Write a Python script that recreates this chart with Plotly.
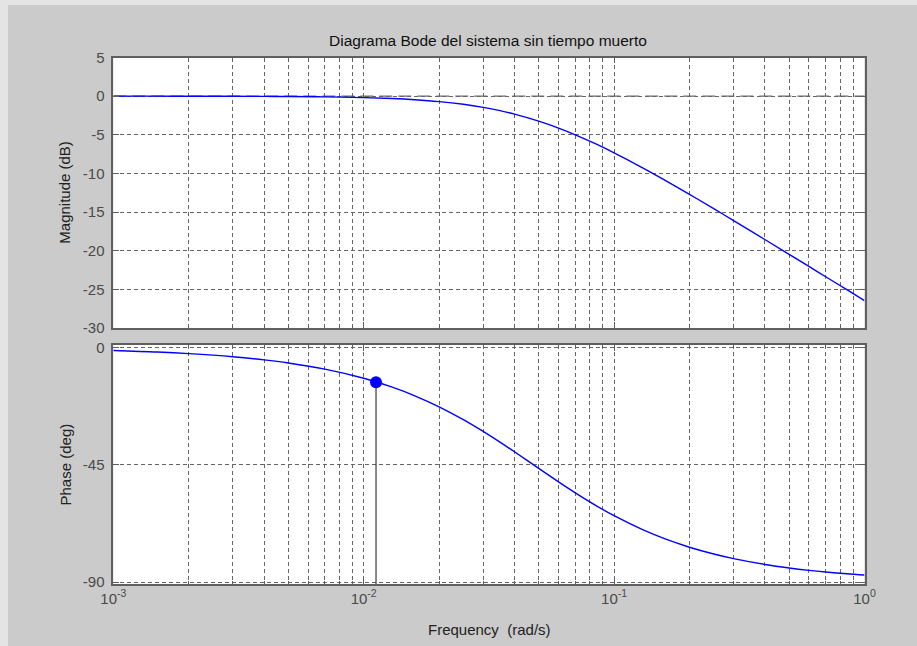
import plotly.graph_objects as go

# Frequency response of the first-order system (no dead time)
freq = [0.001, 0.0015, 0.002, 0.003, 0.004, 0.005, 0.007, 0.01, 0.013, 0.016,
        0.02, 0.025, 0.03, 0.035, 0.04, 0.05, 0.06, 0.07, 0.085, 0.1,
        0.13, 0.16, 0.2, 0.25, 0.3, 0.4, 0.5, 0.6, 0.7, 0.85, 1.0]
mag_db = [-0.002, -0.004, -0.008, -0.017, -0.031, -0.048, -0.093, -0.187, -0.312, -0.465,
          -0.706, -1.057, -1.452, -1.876, -2.319, -3.228, -4.129, -4.998, -6.218, -7.332,
          -9.270, -10.896, -12.705, -14.558, -16.095, -18.547, -20.463, -22.034, -23.367, -25.046, -26.454]
phase_deg = [-1.20, -1.80, -2.41, -3.60, -4.80, -5.99, -8.36, -11.86, -15.27, -18.57,
             -22.78, -27.70, -32.21, -36.32, -40.03, -46.40, -51.56, -55.77, -60.74, -64.54,
             -69.88, -73.43, -76.61, -79.22, -80.98, -83.21, -84.56, -85.46, -86.11, -86.79, -87.27]

# Data tip on the phase curve
tip_freq = 0.0112
tip_phase = -13.4

decades = [0.001, 0.01, 0.1, 1]
decade_text = ["10<sup>-3</sup>", "10<sup>-2</sup>", "10<sup>-1</sup>", "10<sup>0</sup>"]
mag_ticks = [5, 0, -5, -10, -15, -20, -25, -30]
phase_ticks = [0, -45, -90]

W, H = 917, 646
minor_vals = [m * d for d in decades[:-1] for m in range(2, 10)]

def px_x(p):
    return p / W

def px_y(p):
    return 1 - p / H

FONT = "Liberation Sans, Arial, sans-serif"
AX = "#5f5f5f"
GRID = "#666666"
TICKFONT = dict(family=FONT, size=15, color="#4a4a4a")

x_dom = [px_x(113.3), px_x(864.5)]
mag_dom = [px_y(328), px_y(57.5)]
ph_dom = [px_y(584), px_y(345)]

def xaxis_cfg(anchor, labels):
    return dict(
        type="log", range=[-3, 0], domain=x_dom, anchor=anchor,
        tickmode="array", tickvals=decades,
        ticktext=decade_text if labels else [""] * len(decades),
        showticklabels=labels, tickfont=TICKFONT,
        ticks="inside", ticklen=6, tickcolor=AX, tickwidth=1,
        showline=True, linecolor=AX, linewidth=1.5, mirror="ticks",
        showgrid=True, gridcolor=GRID, gridwidth=1, griddash="4px,3px",
        minor=dict(tickmode="array", tickvals=minor_vals, ticks="inside", ticklen=3,
                   tickcolor=AX, showgrid=True, gridcolor=GRID, gridwidth=1,
                   griddash="4px,3px"),
        zeroline=False, fixedrange=True, automargin=False,
    )

def yaxis_cfg(anchor, dom, rng, ticks):
    return dict(
        domain=dom, anchor=anchor, range=rng,
        tickmode="array", tickvals=ticks, ticktext=[str(t) for t in ticks],
        tickfont=TICKFONT, ticklabelstandoff=4,
        ticks="inside", ticklen=6, tickcolor=AX,
        showline=True, linecolor=AX, linewidth=1.5, mirror="ticks",
        showgrid=True, gridcolor=GRID, gridwidth=1, griddash="4px,3px",
        zeroline=False, fixedrange=True, automargin=False,
    )

fig = go.Figure()

fig.add_trace(go.Scatter(x=freq, y=mag_db, mode="lines", xaxis="x", yaxis="y",
                         line=dict(color="#0000ff", width=1.4, shape="spline"),
                         showlegend=False, hoverinfo="skip"))
fig.add_trace(go.Scatter(x=freq, y=phase_deg, mode="lines", xaxis="x2", yaxis="y2",
                         line=dict(color="#0000ff", width=1.4, shape="spline"),
                         showlegend=False, hoverinfo="skip"))
fig.add_trace(go.Scatter(x=[tip_freq, tip_freq], y=[tip_phase, -90.7], mode="lines",
                         xaxis="x2", yaxis="y2", line=dict(color="#3a3a3a", width=1.2),
                         showlegend=False, hoverinfo="skip"))
fig.add_trace(go.Scatter(x=[tip_freq], y=[tip_phase], mode="markers",
                         xaxis="x2", yaxis="y2",
                         marker=dict(color="#0000ff", size=12, line=dict(width=0)),
                         showlegend=False, hoverinfo="skip"))

shapes = [
    # 0 dB reference line
    dict(type="line", xref="x domain", yref="y", x0=0, x1=1, y0=0, y1=0,
         line=dict(color="#6a6a6a", width=1.4, dash="13px,6px"), layer="below"),
    # light window edge strips
    dict(type="rect", xref="paper", yref="paper", x0=0, x1=1, y0=px_y(5), y1=1,
         fillcolor="#e4e4e4", line=dict(width=0), layer="below"),
    dict(type="rect", xref="paper", yref="paper", x0=0, x1=px_x(8), y0=0, y1=1,
         fillcolor="#e4e4e4", line=dict(width=0), layer="below"),
]

annotations = [
    dict(text="Diagrama Bode del sistema sin tiempo muerto", xref="paper", yref="paper",
         x=px_x(488), y=px_y(40), showarrow=False, xanchor="center", yanchor="middle",
         font=dict(family=FONT, size=15.5, color="#111111")),
    dict(text="Magnitude (dB)", xref="paper", yref="paper", x=px_x(65), y=px_y(192.7),
         showarrow=False, textangle=-90, xanchor="center", yanchor="middle",
         font=dict(family=FONT, size=15, color="#222222")),
    dict(text="Phase (deg)", xref="paper", yref="paper", x=px_x(65), y=px_y(464.5),
         showarrow=False, textangle=-90, xanchor="center", yanchor="middle",
         font=dict(family=FONT, size=15, color="#222222")),
    dict(text="Frequency  (rad/s)", xref="paper", yref="paper", x=px_x(489), y=px_y(629),
         showarrow=False, xanchor="center", yanchor="middle",
         font=dict(family=FONT, size=15, color="#222222")),
]

fig.update_layout(
    width=W, height=H, margin=dict(l=0, r=0, t=0, b=0),
    paper_bgcolor="#cbcbcb", plot_bgcolor="#ffffff",
    xaxis=xaxis_cfg("y", False),
    yaxis=yaxis_cfg("x", mag_dom, [-30, 5], mag_ticks),
    xaxis2=xaxis_cfg("y2", True),
    yaxis2=yaxis_cfg("x2", ph_dom, [-90.7, 0.9], phase_ticks),
    shapes=shapes, annotations=annotations, showlegend=False,
)

fig.write_html("out.html", post_script="document.body.style.margin='0px';")
